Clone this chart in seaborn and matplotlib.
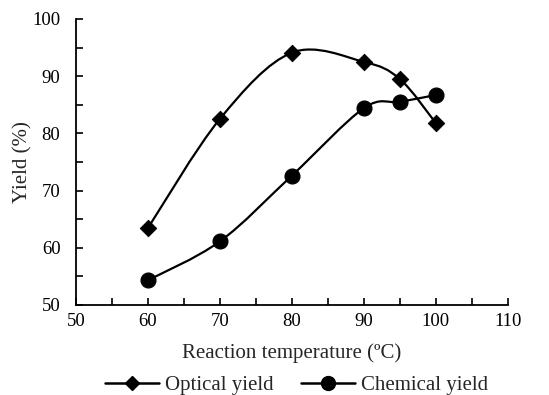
import numpy as np
import pandas as pd
import matplotlib
matplotlib.use("Agg")
import matplotlib.pyplot as plt
import seaborn as sns
from matplotlib.path import Path
from matplotlib.patches import PathPatch
from matplotlib.lines import Line2D

temperature = [60, 70, 80, 90, 95, 100]
optical_yield = [63.4, 82.5, 94.1, 92.5, 89.5, 81.8]
chemical_yield = [54.3, 61.1, 72.6, 84.4, 85.5, 86.7]
series_names = ["Optical yield", "Chemical yield"]

sns.set_style("ticks")
plt.rcParams["font.family"] = ["Liberation Serif", "DejaVu Serif"]

fig = plt.figure(figsize=(5.49, 3.95), dpi=100)
ax = fig.add_axes([0.138, 0.228, 0.787, 0.724])

def smooth_path(xs, ys):
    pts = np.column_stack([xs, ys]).astype(float)
    n = len(pts)
    verts = [pts[0]]
    codes = [Path.MOVETO]
    for i in range(n - 1):
        p0 = pts[i - 1] if i > 0 else pts[i]
        p1 = pts[i]
        p2 = pts[i + 1]
        p3 = pts[i + 2] if i + 2 < n else pts[i + 1]
        c1 = p1 + (p2 - p0) / 6.0
        c2 = p2 - (p3 - p1) / 6.0
        verts += [c1, c2, p2]
        codes += [Path.CURVE4] * 3
    return Path(verts, codes)

df = pd.DataFrame({"T": temperature, "opt": optical_yield, "chem": chemical_yield})

for col in ["opt", "chem"]:
    ax.add_patch(PathPatch(smooth_path(df["T"], df[col]), facecolor="none",
                           edgecolor="black", lw=1.6, zorder=2))

sns.scatterplot(data=df, x="T", y="opt", marker="D", s=70, color="black",
                edgecolor="black", ax=ax, zorder=3)
sns.scatterplot(data=df, x="T", y="chem", marker="o", s=115, color="black",
                edgecolor="black", ax=ax, zorder=3)

ax.set_xlim(50, 110)
ax.set_ylim(50, 100)
ax.set_xticks(range(50, 111, 10))
ax.set_xticks(range(55, 110, 10), minor=True)
ax.set_yticks(range(50, 101, 10))
ax.set_yticks(range(55, 100, 10), minor=True)
ax.tick_params(axis="both", which="both", direction="in", length=5, width=1.2,
               labelsize=13.5, colors="black")
ax.tick_params(axis="x", pad=6)
ax.tick_params(axis="y", pad=11)
for s in ["top", "right"]:
    ax.spines[s].set_visible(False)
for s in ["left", "bottom"]:
    ax.spines[s].set_linewidth(1.3)
    ax.spines[s].set_color("black")

ax.set_xlabel("Reaction temperature (ºC)", fontsize=15, labelpad=9)
ax.set_ylabel("Yield (%)", fontsize=15, labelpad=0)

handles = [
    Line2D([0], [0], color="black", lw=1.8, marker="D", markersize=7),
    Line2D([0], [0], color="black", lw=1.8, marker="o", markersize=10),
]
fig.legend(handles, series_names, loc="center", bbox_to_anchor=(0.54, 0.025),
           ncol=2, frameon=False, fontsize=15, handlelength=2.6,
           columnspacing=1.3, handletextpad=0.3)

fig.savefig("out.png", dpi=100)
